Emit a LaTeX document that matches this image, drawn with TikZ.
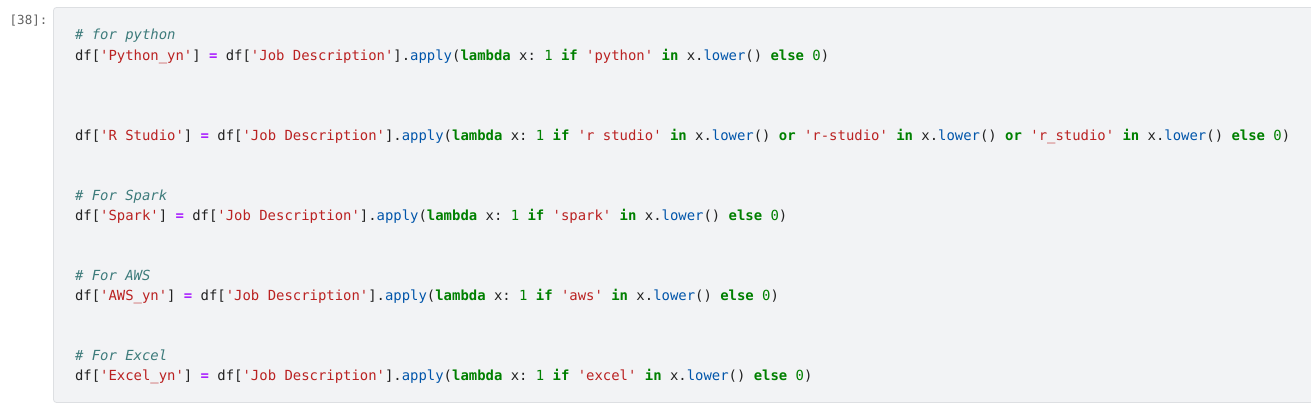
\documentclass[tikz,border=0pt]{standalone}
\usepackage{fontspec}
\setmonofont{DejaVu Sans Mono}
\definecolor{cellbg}{HTML}{F2F3F5}
\definecolor{cellborder}{HTML}{DDDFE2}
\definecolor{prompt}{HTML}{616161}
\definecolor{txt}{HTML}{212121}
\definecolor{cmt}{HTML}{3D7B7B}
\definecolor{strc}{HTML}{BA2121}
\definecolor{kwc}{HTML}{008000}
\definecolor{opc}{HTML}{AA22FF}
\definecolor{prc}{HTML}{0055AA}
\definecolor{numc}{HTML}{008000}
\newcommand\tkC[1]{{\color{cmt}\itshape #1}}
\newcommand\tkS[1]{{\color{strc}#1}}
\newcommand\tkK[1]{{\color{kwc}\bfseries #1}}
\newcommand\tkO[1]{{\color{opc}\bfseries #1}}
\newcommand\tkP[1]{{\color{prc}#1}}
\newcommand\tkN[1]{{\color{numc}#1}}
\frenchspacing
\tikzset{
  codeline/.style={anchor=base west, inner sep=0pt, outer sep=0pt, text=txt,
    font=\ttfamily\fontsize{13.92}{20}\selectfont},
  promptlabel/.style={anchor=base west, inner sep=0pt, text=prompt,
    font=\ttfamily\fontsize{12.5}{14}\selectfont},
  cellbox/.style={rounded corners=3pt, fill=cellbg, draw=cellborder, line width=0.8pt}
}
\begin{document}
\begin{tikzpicture}[x=1pt,y=-1pt]
\useasboundingbox (0,0) rectangle (1311,404);
\clip (0,0) rectangle (1311,404);
\draw[cellbox] (53.5,7.5) rectangle (1330,402.5);
\node[promptlabel] (prompt) at (9.5,25) {[38]:};
\node[codeline] (l1) at (75,40) {\tkC{\# for python}};
\node[codeline] (l2) at (75,60) {df[\tkS{'Python\_yn'}] \tkO{=} df[\tkS{'Job Description'}].\tkP{apply}(\tkK{lambda} x: \tkN{1} \tkK{if} \tkS{'python'} \tkK{in} x.\tkP{lower}() \tkK{else} \tkN{0})};
\node[codeline] (l6) at (75,140) {df[\tkS{'R Studio'}] \tkO{=} df[\tkS{'Job Description'}].\tkP{apply}(\tkK{lambda} x: \tkN{1} \tkK{if} \tkS{'r studio'} \tkK{in} x.\tkP{lower}() \tkK{or} \tkS{'r-studio'} \tkK{in} x.\tkP{lower}() \tkK{or} \tkS{'r\_studio'} \tkK{in} x.\tkP{lower}() \tkK{else} \tkN{0})};
\node[codeline] (l10) at (75,200) {\tkC{\# For Spark}};
\node[codeline] (l11) at (75,220) {df[\tkS{'Spark'}] \tkO{=} df[\tkS{'Job Description'}].\tkP{apply}(\tkK{lambda} x: \tkN{1} \tkK{if} \tkS{'spark'} \tkK{in} x.\tkP{lower}() \tkK{else} \tkN{0})};
\node[codeline] (l14) at (75,280) {\tkC{\# For AWS}};
\node[codeline] (l15) at (75,300) {df[\tkS{'AWS\_yn'}] \tkO{=} df[\tkS{'Job Description'}].\tkP{apply}(\tkK{lambda} x: \tkN{1} \tkK{if} \tkS{'aws'} \tkK{in} x.\tkP{lower}() \tkK{else} \tkN{0})};
\node[codeline] (l18) at (75,360) {\tkC{\# For Excel}};
\node[codeline] (l19) at (75,380) {df[\tkS{'Excel\_yn'}] \tkO{=} df[\tkS{'Job Description'}].\tkP{apply}(\tkK{lambda} x: \tkN{1} \tkK{if} \tkS{'excel'} \tkK{in} x.\tkP{lower}() \tkK{else} \tkN{0})};
\end{tikzpicture}
\end{document}
